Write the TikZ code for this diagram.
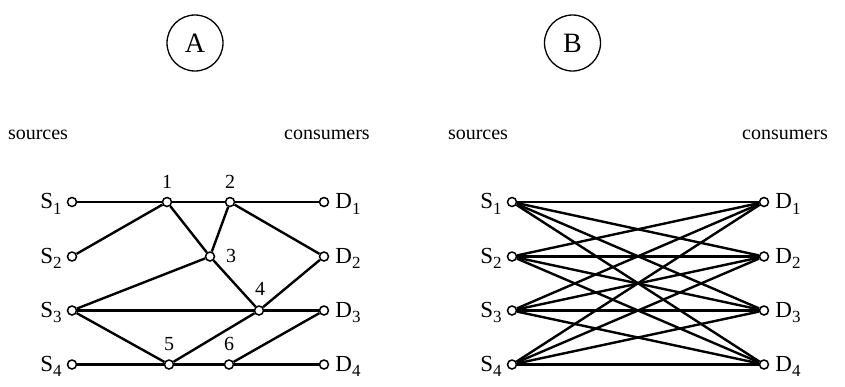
\documentclass[tikz,border=0pt]{standalone}
\usepackage{fontspec}
\setmainfont{Liberation Serif}
\newcommand{\lowidx}[1]{\raisebox{-0.5ex}{\fontsize{17}{17}\selectfont #1}}
\tikzset{
  port/.style={circle,draw,line width=1.5pt,fill=white,inner sep=0pt,minimum size=9pt},
  link/.style={line width=2.4pt},
  lbl/.style={font=\fontsize{23}{24}\selectfont,inner sep=0pt},
  num/.style={font=\fontsize{20}{20}\selectfont,inner sep=0pt},
  head/.style={font=\fontsize{20}{22}\selectfont,inner sep=0pt},
  tag/.style={circle,draw,line width=1.3pt,minimum size=56pt,inner sep=0pt,font=\fontsize{28}{30}\selectfont}
}
\begin{document}
\begin{tikzpicture}[x=1pt,y=-1pt]
\useasboundingbox (0,0) rectangle (845,386);

% panel tags
\node[tag] (tagA) at (195,43) {A};
\node[tag] (tagB) at (572.5,43) {B};

% headings
\node[head] (srcA) at (38,135) {sources};
\node[head] (conA) at (327,135) {consumers};
\node[head] (srcB) at (478,135) {sources};
\node[head] (conB) at (785,135) {consumers};

% ---- network A ----
\foreach \i/\y in {1/202,2/256.5,3/310.5,4/364.5}{
  \node[port] (s\i) at (72,\y) {};
  \node[port] (d\i) at (324,\y) {};
  \node[lbl,anchor=east] at ([xshift=-5pt,yshift=-2pt]s\i.west) {S\lowidx{\i}};
  \node[lbl,anchor=west] at ([xshift=6pt,yshift=-2pt]d\i.east) {D\lowidx{\i}};
}
\node[port] (n1) at (167,202) {};
\node[port] (n2) at (230,202) {};
\node[port] (n3) at (210,256.5) {};
\node[port] (n4) at (259,310.5) {};
\node[port] (n5) at (169,364.5) {};
\node[port] (n6) at (229,364.5) {};
\node[num] at (167,182) {1};
\node[num] at (230,182) {2};
\node[num] at (231,256) {3};
\node[num] at (260,289) {4};
\node[num] at (169,344) {5};
\node[num] at (229,344) {6};

\draw[link] (s1) -- (n1);
\draw[link] (n1) -- (n2);
\draw[link] (n2) -- (d1);
\draw[link] (s2) -- (n1);
\draw[link] (n1) -- (n3);
\draw[link] (n2) -- (n3);
\draw[link] (n2) -- (d2);
\draw[link] (s3) -- (n3);
\draw[link] (n3) -- (n4);
\draw[link] (n4) -- (d2);
\draw[link] (s3) -- (n4);
\draw[link] (n4) -- (d3);
\draw[link] (s3) -- (n5);
\draw[link] (s4) -- (n5);
\draw[link] (n5) -- (n6);
\draw[link] (n6) -- (d4);
\draw[link] (n5) -- (n4);
\draw[link] (n6) -- (d3);

% ---- network B ----
\foreach \i/\y in {1/202,2/256.5,3/310.5,4/364.5}{
  \node[port] (bs\i) at (512,\y) {};
  \node[port] (bd\i) at (764,\y) {};
  \node[lbl,anchor=east] at ([xshift=-5pt,yshift=-2pt]bs\i.west) {S\lowidx{\i}};
  \node[lbl,anchor=west] at ([xshift=6pt,yshift=-2pt]bd\i.east) {D\lowidx{\i}};
}
\foreach \i in {1,...,4}{
  \foreach \j in {1,...,4}{
    \draw[link] (bs\i) -- (bd\j);
  }
}
\end{tikzpicture}
\end{document}
